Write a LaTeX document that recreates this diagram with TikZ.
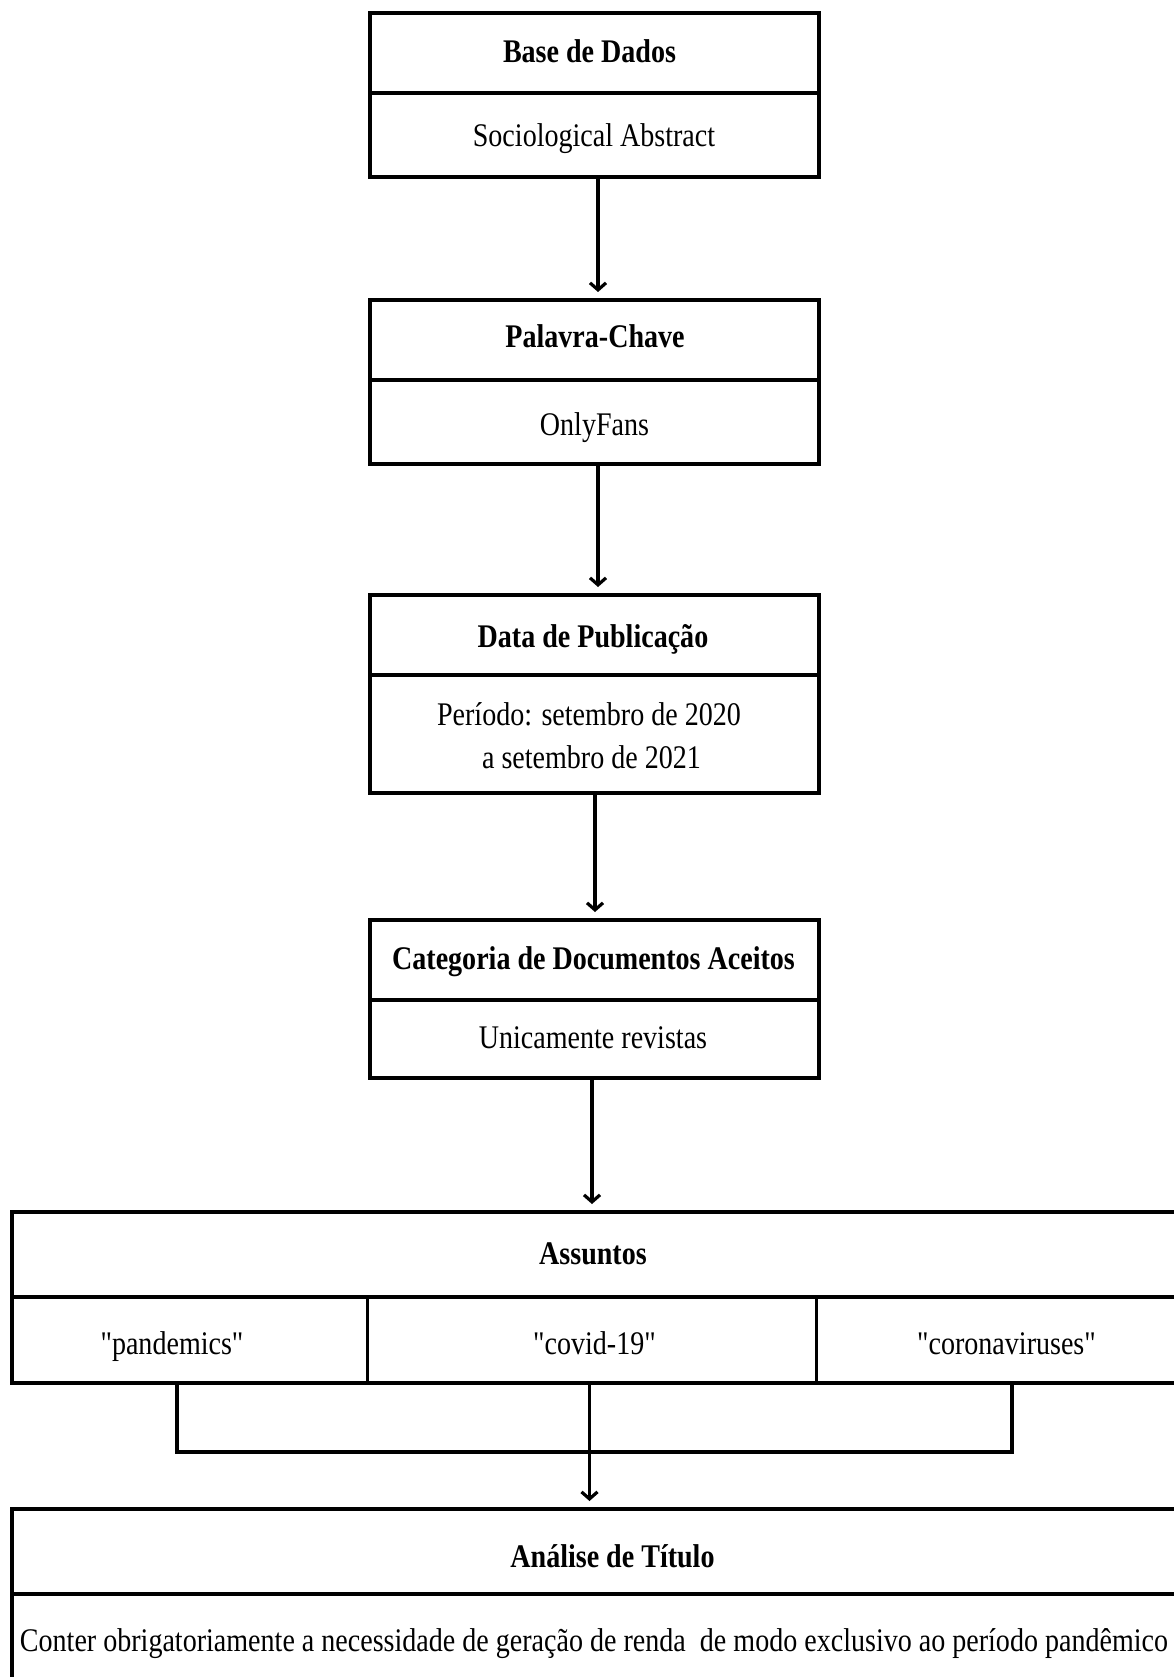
\documentclass[tikz,border=0pt]{standalone}
\usepackage{fontspec}
\setmainfont{Liberation Serif}[FakeStretch=0.85, Ligatures=TeXOff]
\usetikzlibrary{arrows.meta}
\begin{document}
\begin{tikzpicture}[x=1pt,y=-1pt,
  sec/.style={draw, line width=4pt, inner sep=0pt, minimum width=449pt},
  wide/.style={draw, line width=4pt, inner sep=0pt, minimum width=1178pt},
  cell/.style={inner sep=0pt, minimum height=86pt},
  txt/.style={anchor=base, inner sep=0pt, font=\fontsize{33}{44}\selectfont},
  btxt/.style={anchor=base, inner sep=0pt, font=\fontsize{33}{44}\selectfont\bfseries},
  arr/.style={line width=3.2pt, -{Straight Barb[length=7pt,width=16pt]}, shorten >=6pt},
  conn/.style={line width=3.5pt}]
\useasboundingbox (0,0) rectangle (1174,1677);
\clip (0,0) rectangle (1174,1677);
\fill[white] (0,0) rectangle (1174,1677);

% box 1
\node[sec, minimum height=80pt] (b1t) at (594.5,53) {};
\node[sec, minimum height=84pt] (b1b) at (594.5,135) {};
\node[btxt] (t1) at (589.5,63) {Base de Dados};
\node[txt] (s1) at (594,147) {Sociological Abstract};

% box 2
\node[sec, minimum height=80pt] (b2t) at (594.5,340) {};
\node[sec, minimum height=84pt] (b2b) at (594.5,422) {};
\node[btxt] (t2) at (595,347) {Palavra-Chave};
\node[txt] (s2) at (594.5,435) {OnlyFans};

% box 3
\node[sec, minimum height=80pt] (b3t) at (594.5,635) {};
\node[sec, minimum height=118pt] (b3b) at (594.5,734) {};
\node[btxt] (t3) at (593,647) {Data de Publicação};
\node[txt] (s3a) at (589,725) {Período: setembro de 2020};
\node[txt] (s3b) at (591.5,768) {a setembro de 2021};

% box 4
\node[sec, minimum height=80pt] (b4t) at (594.5,960) {};
\node[sec, minimum height=78pt] (b4b) at (594.5,1039) {};
\node[btxt] (t4) at (593.5,969) {Categoria de Documentos Aceitos};
\node[txt] (s4) at (593,1048) {Unicamente revistas};

% Assuntos
\node[wide, minimum height=85pt] (asu) at (601,1254.5) {};
\node[wide, minimum height=86pt] (row) at (601,1340) {};
\node[cell, minimum width=355pt] (c1) at (189.5,1340) {};
\node[cell, minimum width=449pt] (c2) at (591.5,1340) {};
\node[cell, minimum width=374pt] (c3) at (1003,1340) {};
\draw[line width=3pt] (c1.north east) -- (c1.south east);
\draw[line width=3pt] (c2.north east) -- (c2.south east);
\node[btxt] (t5) at (593,1264) {Assuntos};
\node[txt] (k1) at (172,1354) {"pandemics"};
\node[txt] (k2) at (594.5,1354) {"covid-19"};
\node[txt] (k3) at (1006.5,1354) {"coronaviruses"};

% Analise
\node[wide, minimum height=85pt] (ana) at (601,1551.5) {};
\node[wide, minimum height=116pt] (anb) at (601,1652) {};
\node[btxt] (t6) at (612.5,1567) {Análise de Título};
\node[txt] (s6) at (594,1651) {Conter obrigatoriamente a necessidade de geração de renda~ de modo exclusivo ao período pandêmico};

% connectors
\draw[arr] ([xshift=3.5pt]b1b.south) -- ([xshift=3.5pt]b2t.north);
\draw[arr] ([xshift=3.5pt]b2b.south) -- ([xshift=3.5pt]b3t.north);
\draw[arr] ([xshift=0.5pt]b3b.south) -- ([xshift=0.5pt]b4t.north);
\draw[arr] ([xshift=-2.5pt]b4b.south) -- ([xshift=-2.5pt]b4b.south |- asu.north);
\coordinate (bl) at (177,1452);
\coordinate (br) at (1012,1452);
\draw[conn] (bl |- c1.south) -- (bl) -- (br) -- (br |- c3.south);
\draw[arr] ([xshift=-2pt]c2.south) -- ([xshift=-2pt]c2.south |- ana.north);
\end{tikzpicture}
\end{document}
